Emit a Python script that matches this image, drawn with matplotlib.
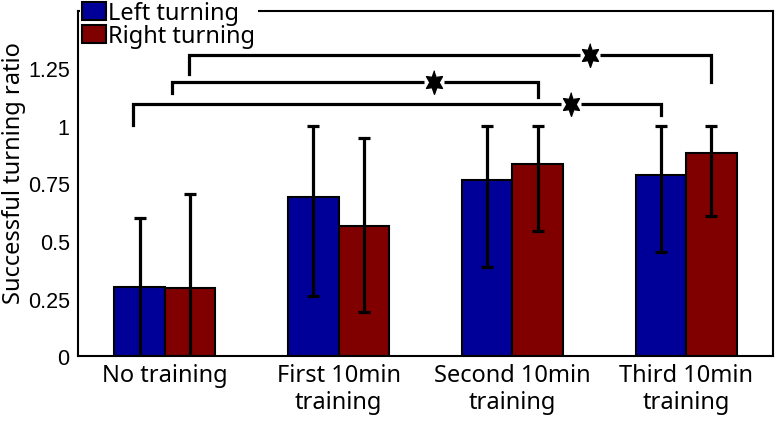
import numpy as np
import matplotlib.pyplot as plt
from matplotlib.patches import Patch

# bar heights
groups = ['No training', 'First 10min\ntraining', 'Second 10min\ntraining', 'Third 10min\ntraining']
left_mean = np.array([0.300, 0.693, 0.765, 0.787])
right_mean = np.array([0.295, 0.567, 0.835, 0.883])
# error bar ends (lower, upper)
left_lo = np.array([0.0, 0.262, 0.387, 0.452])
left_hi = np.array([0.599, 1.0, 1.0, 1.0])
right_lo = np.array([0.0, 0.190, 0.545, 0.610])
right_hi = np.array([0.704, 0.948, 1.0, 1.0])

# significance brackets: x left, x right, y bar, y left tip, y right tip, star x
br_x0 = [1.138, 1.04, 0.816]
br_x1 = [4.145, 3.145, 3.855]
br_y = [1.309, 1.190, 1.096]
br_yl = [1.226, 1.143, 1.004]
br_yr = [1.190, 1.126, 1.048]
br_star = [3.448, 2.55, 3.34]

blue = '#000099'
red = '#800000'
txt_font = ['Noto Sans', 'DejaVu Sans']

fig = plt.figure(figsize=(7.77, 4.27), dpi=100)
ax = fig.add_axes([78 / 777, 1 - 357 / 427, 695 / 777, 345 / 427])

x = np.arange(1, len(groups) + 1)
w = 0.29

ax.bar(x - w / 2, left_mean, w, color=blue, edgecolor='k', linewidth=1.5, zorder=2)
ax.bar(x + w / 2, right_mean, w, color=red, edgecolor='k', linewidth=1.5, zorder=2)

ax.errorbar(x - w / 2, left_mean, yerr=[left_mean - left_lo, left_hi - left_mean],
            fmt='none', ecolor='k', elinewidth=2.3, capsize=4, capthick=2.3, zorder=3)
ax.errorbar(x + w / 2, right_mean, yerr=[right_mean - right_lo, right_hi - right_mean],
            fmt='none', ecolor='k', elinewidth=2.3, capsize=4, capthick=2.3, zorder=3)

# six-point star, a bit taller than wide
ang = np.pi / 2 + np.arange(12) * np.pi / 6
rad = np.where(np.arange(12) % 2 == 0, 1.0, 0.5)
star = np.column_stack([0.78 * rad * np.cos(ang), rad * np.sin(ang)])

# brackets with stars
for x0, x1, y, yl, yr, xs in zip(br_x0, br_x1, br_y, br_yl, br_yr, br_star):
    ax.plot([x0, x0, x1, x1], [yl, y, y, yr], color='k', lw=2.3,
            solid_joinstyle='miter', zorder=4)
    ax.plot([xs], [y], marker='s', ms=15, color='white', mec='none', zorder=5)
    ax.plot([xs], [y], marker=star, ms=17, color='k', mec='k', zorder=6)

ax.set_xlim(0.5, 4.5)
ax.set_ylim(0, 1.5)
ax.set_yticks([0, 0.25, 0.5, 0.75, 1, 1.25])
ax.set_yticklabels(['0', '0.25', '0.5', '0.75', '1', '1.25'],
                   fontsize=15.5, family=['Liberation Sans', 'DejaVu Sans'])
ax.set_xticks(x)
ax.set_xticklabels(groups, fontsize=17, family=txt_font, linespacing=1.15)
ax.tick_params(length=0)
ax.tick_params(axis='y', pad=6)
ax.tick_params(axis='x', pad=5)

for s in ax.spines.values():
    s.set_linewidth(1.5)

ax.text((14 - 78) / 695, 0.533, 'Successful turning ratio', transform=ax.transAxes,
        rotation=90, ha='center', va='center', fontsize=17, family=txt_font)

handles = [Patch(facecolor=blue, edgecolor='k', linewidth=1.5, label='Left turning'),
           Patch(facecolor=red, edgecolor='k', linewidth=1.5, label='Right turning')]
leg = ax.legend(handles=handles, loc='upper left',
                bbox_to_anchor=(80 / 777, 1 - 0 / 427), bbox_transform=fig.transFigure,
                borderaxespad=0, borderpad=0.1, handlelength=1.0, handleheight=0.75,
                handletextpad=0.1, labelspacing=-0.05, fancybox=False,
                prop={'family': txt_font, 'size': 17})
leg.get_frame().set_edgecolor('none')
leg.get_frame().set_facecolor('white')
leg.get_frame().set_alpha(1)
leg.set_zorder(10)

fig.savefig('out.png', dpi=100)
